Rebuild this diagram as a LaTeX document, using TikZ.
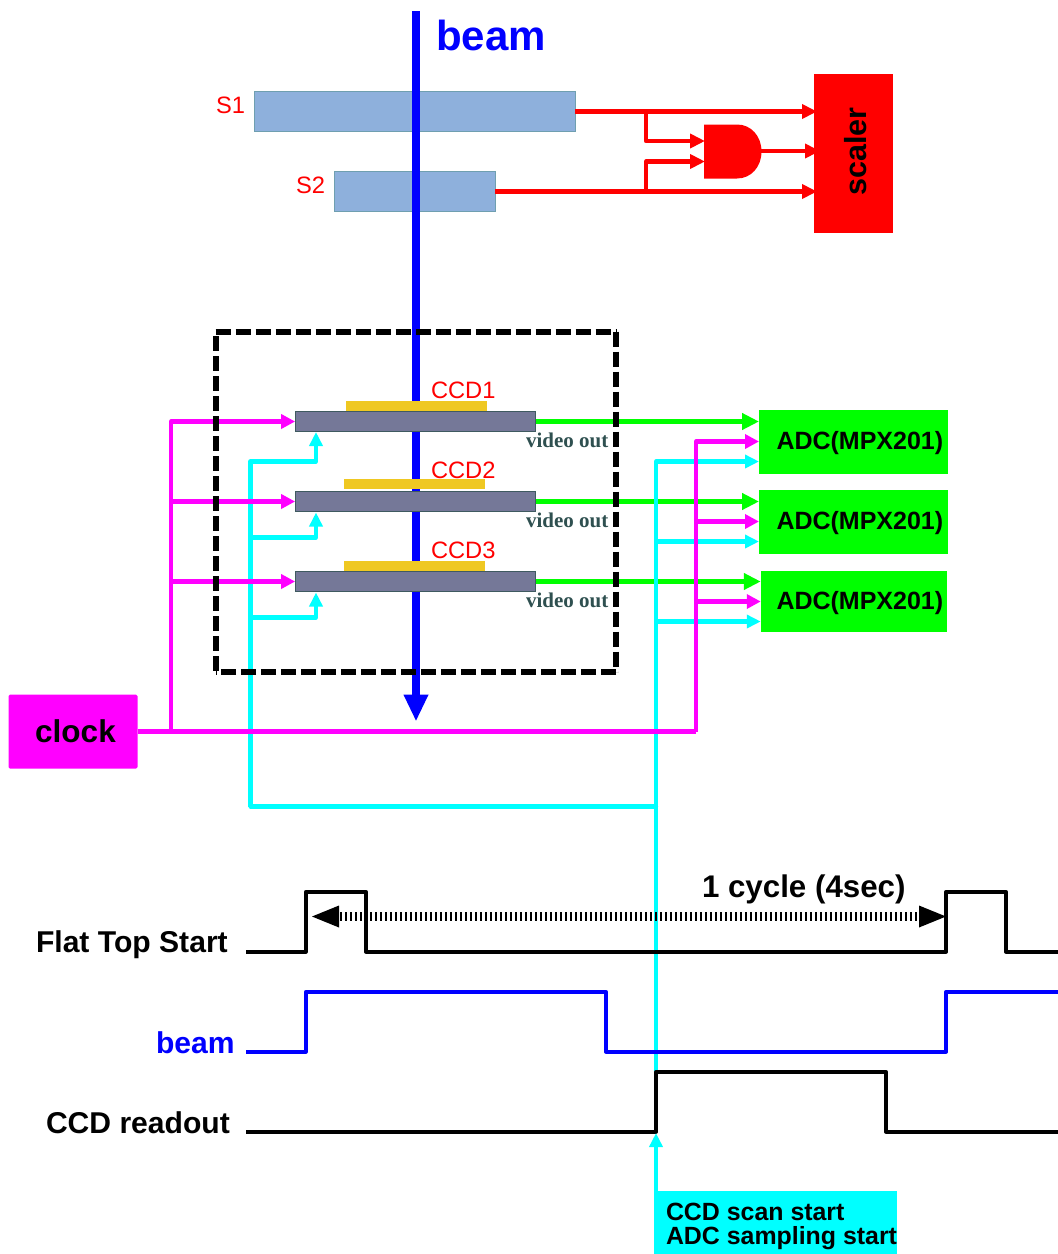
\documentclass[tikz,border=0pt]{standalone}
\usepackage{fontspec}
\setmainfont{Liberation Sans}
\newfontfamily\vidfont{Liberation Serif}
\usetikzlibrary{arrows.meta}
\definecolor{sensorblue}{HTML}{8EB0DC}
\definecolor{sensoredge}{HTML}{6F9FB0}
\definecolor{ccdgray}{HTML}{757898}
\definecolor{ccdedge}{HTML}{3F5A60}
\definecolor{ccdgold}{HTML}{EFC822}
\definecolor{vidcolor}{HTML}{2F5050}
\definecolor{mycyan}{HTML}{00FFFF}
\definecolor{mymag}{HTML}{FF00FF}
\definecolor{mygreen}{HTML}{00FF00}
\tikzset{
 x=1pt,y=-1pt,
 label text/.style={inner sep=0pt,outer sep=0pt,anchor=west,font=\fontsize{23.7}{24}\selectfont,text=red},
 bold text/.style={inner sep=0pt,outer sep=0pt,font=\bfseries\fontsize{30.1}{30.1}\selectfont,text=black},
 adc text/.style={inner sep=0pt,outer sep=0pt,anchor=west,font=\bfseries\fontsize{25}{25}\selectfont,text=black},
 vid text/.style={inner sep=0pt,outer sep=0pt,anchor=west,font=\vidfont\bfseries\fontsize{21}{21}\selectfont,text=vidcolor},
 wire/.style={line width=4.2pt,line join=round},
 redwire/.style={wire,red,-{Triangle[length=15pt,width=14pt]}},
 greenwire/.style={wire,mygreen,-{Triangle[length=17pt,width=16pt]}},
 magwire/.style={wire,mymag,-{Triangle[length=14pt,width=14pt]}},
 cyanwire/.style={wire,mycyan,-{Triangle[length=14pt,width=13pt]}},
 trace/.style={line width=3.8pt,line join=round},
 sensor/.style={draw=sensoredge,line width=1pt,fill=sensorblue,inner sep=0pt,outer sep=0pt,minimum height=40pt},
 ccd/.style={draw=ccdedge,line width=1.2pt,fill=ccdgray,inner sep=0pt,outer sep=0pt,minimum width=240.5pt,minimum height=20pt},
 gold/.style={fill=ccdgold,inner sep=0pt,outer sep=0pt,minimum width=141pt,minimum height=10pt},
 adcbox/.style={fill=mygreen,inner sep=0pt,outer sep=0pt},
 dashedge/.style={black,line width=5.8pt,dash pattern=on 15pt off 5pt},
}
\begin{document}
\begin{tikzpicture}
\useasboundingbox (0,0) rectangle (1058,1254);
% sensors
\node[sensor,minimum width=320.5pt] (s1) at (415.2,111) {};
\node[sensor,minimum width=160.5pt] (s2) at (415.2,191) {};
% beam
\coordinate (beamtop) at (416,11);
\coordinate (beamend) at (416,721.5);
\draw[line width=8.4pt,blue,-{Triangle[length=27pt,width=23pt]}] (beamtop) -- (beamend);
\node[inner sep=0pt,anchor=west,font=\bfseries\fontsize{42}{42}\selectfont,text=blue] (beamlabel) at (436,35.5) {beam};
\node[label text] (s1lab) at (216,105) {S1};
\node[label text] (s2lab) at (296,185) {S2};
% scaler
\node[fill=red,inner sep=0pt,outer sep=0pt,minimum width=79pt,minimum height=159pt] (scaler) at (853.5,153.5) {};
\node[rotate=90,inner sep=0pt,font=\bfseries\fontsize{30.5}{30.5}\selectfont] (scalerlab) at (855.5,151.5) {scaler};
% AND gate
\fill[red] (704,124.5) -- (737,124.5) .. controls (751,124.5) and (761.5,136) .. (761.5,151.5) .. controls (761.5,167) and (751,178.5) .. (737,178.5) -- (704,178.5) -- cycle;
\coordinate (gatein1) at (705,141);
\coordinate (gatein2) at (705,161.5);
\coordinate (gateout) at (761,151);
\coordinate (j1) at (646,111.5);
\coordinate (j2) at (646,191.5);
\coordinate (scalerin) at (820,151);
\coordinate (s1in) at (817,111.5);
\coordinate (s2in) at (817,191.5);
\draw[redwire] (s1.east |- j1) -- (s1in);
\draw[redwire] (s2.east |- j2) -- (s2in);
\draw[redwire] (j1) -- (j1 |- gatein1) -- (gatein1);
\draw[redwire] (j2) -- (j2 |- gatein2) -- (gatein2);
\draw[redwire] (gateout) -- (scalerin);
% ADC boxes
\node[adcbox,minimum width=189pt,minimum height=64pt] (adc1) at (853.5,441.5) {};
\node[adcbox,minimum width=189pt,minimum height=64pt] (adc2) at (853.5,521.5) {};
\node[adcbox,minimum width=186.5pt,minimum height=61pt] (adc3) at (854,601) {};
\node[adc text] (adc1lab) at (776.5,443) {ADC(MPX201)};
\node[adc text] (adc2lab) at (776.5,523) {ADC(MPX201)};
\node[adc text] (adc3lab) at (776.5,603) {ADC(MPX201)};
% clock
\node[fill=mymag,rounded corners=1.5pt,inner sep=0pt,outer sep=0pt,minimum width=129pt,minimum height=74pt] (clock) at (73,731.5) {};
\node[bold text,font=\bfseries\fontsize{31.5}{31.5}\selectfont] (clocklab) at (75.5,731.5) {clock};
% CCD
\node[gold] (g1) at (416.5,405.5) {};
\node[gold] (g2) at (414.5,483.5) {};
\node[gold] (g3) at (414.5,566) {};
\node[ccd] (c1) at (415.4,421.5) {};
\node[ccd] (c2) at (415.4,501.5) {};
\node[ccd] (c3) at (415.4,581.5) {};
\node[label text] (c1lab) at (431,390.5) {CCD1};
\node[label text] (c2lab) at (431,470.5) {CCD2};
\node[label text] (c3lab) at (431,550.5) {CCD3};
\node[vid text] (v1) at (526,440.5) {video out};
\node[vid text] (v2) at (526,520.5) {video out};
\node[vid text] (v3) at (526,600.5) {video out};
% green
\draw[greenwire] (c1.east) -- (adc1.west |- c1.east);
\draw[greenwire] (c2.east) -- (adc2.west |- c2.east);
\draw[greenwire] (c3.east) -- (adc3.west |- c3.east);
% cyan wiring
\coordinate (cr) at (656,461.5);
\coordinate (cb) at (656,806.5);
\coordinate (cl) at (250.5,806.5);
\coordinate (cl1) at (250.5,461.5);
\coordinate (cl2) at (250.5,537.5);
\coordinate (cl3) at (250.5,617.5);
\coordinate (cx1) at (316,461.5);
\coordinate (cx2) at (316,537.5);
\coordinate (cx3) at (316,617.5);
\coordinate (ct1) at (316,432);
\coordinate (ct2) at (316,512.5);
\coordinate (ct3) at (316,592.5);
\coordinate (crbot) at (656,1071);
\coordinate (cr2) at (656,541.5);
\coordinate (cr3) at (656,621.5);
\draw[wire,mycyan,line cap=round] (cb) -- (cl);
\draw[cyanwire] (cl) -- (cl1) -- (cx1) -- (ct1);
\draw[cyanwire] (cl2) -- (cx2) -- (ct2);
\draw[cyanwire] (cl3) -- (cx3) -- (ct3);
\draw[cyanwire] (crbot) -- (cr) -- (adc1.west |- cr);
\draw[cyanwire] (cr2) -- (adc2.west |- cr2);
\draw[cyanwire] (cr3) -- (adc3.west |- cr3);
% magenta wiring
\coordinate (ml) at (171,731.5);
\coordinate (mr) at (696,731.5);
\coordinate (mr1) at (696,441.5);
\coordinate (mr2) at (696,521.5);
\coordinate (mr3) at (696,601.5);
\draw[wire,mymag] (clock.east |- ml) -- (mr);
\draw[magwire] (ml) -- (ml |- c1.west) -- (c1.west);
\draw[magwire] (ml |- c2.west) -- (c2.west);
\draw[magwire] (ml |- c3.west) -- (c3.west);
\draw[magwire] (mr) -- (mr1) -- (adc1.west |- mr1);
\draw[magwire] (mr2) -- (adc2.west |- mr2);
\draw[magwire] (mr3) -- (adc3.west |- mr3);
% dashed box
\coordinate (dtl) at (215.7,331.7);
\coordinate (dtr) at (616,331.7);
\coordinate (dbr) at (616,671.7);
\coordinate (dbl) at (215.7,671.7);
\coordinate (dls) at (215.7,336);
\draw[dashedge] (dtl) -- (dtr);
\draw[dashedge] (dtr) -- (dbr);
\draw[dashedge] (dbr) -- (dbl);
\draw[dashedge] (dls) -- (dbl);
% timing
\node[bold text,anchor=west] (ftlab) at (36,944.5) {Flat Top Start};
\node[bold text,anchor=west,text=blue] (blab) at (156,1042.5) {beam};
\node[bold text,anchor=west] (rolab) at (46,1122.5) {CCD readout};
\node[bold text,anchor=west,font=\bfseries\fontsize{31.3}{31.3}\selectfont] (cyclab) at (702,889.5) {1 cycle (4sec)};
\draw[trace] (246,951.7) -- (305.8,951.7) -- (305.8,891.7) -- (366,891.7) -- (366,951.7) -- (946,951.7) -- (946,891.7) -- (1006,891.7) -- (1006,951.7) -- (1058,951.7);
\draw[trace,blue] (246,1051.7) -- (305.8,1051.7) -- (305.8,991.7) -- (606,991.7) -- (606,1051.7) -- (946,1051.7) -- (946,991.7) -- (1058,991.7);
\draw[trace] (246,1131.7) -- (656,1131.7) -- (656,1071.7) -- (886,1071.7) -- (886,1131.7) -- (1058,1131.7);
\coordinate (dl) at (340,916.5);
\coordinate (dr) at (918,916.5);
\draw[line width=9pt,dash pattern=on 2.4pt off 2.6pt] (dl) -- (dr);
\fill (dl) ++(-28,0) -- ++(27,-11) -- ++(0,22) -- cycle;
\fill (dr) ++(28,0) -- ++(-27,-11) -- ++(0,22) -- cycle;
% scan start
\node[fill=mycyan,inner sep=0pt,outer sep=0pt,minimum width=243pt,minimum height=63pt] (scan) at (775.5,1222.5) {};
\node[inner sep=0pt,outer sep=0pt,anchor=west,font=\bfseries\fontsize{24.9}{24.9}\selectfont] (scan1) at (666,1212) {CCD scan start};
\node[inner sep=0pt,outer sep=0pt,anchor=west,font=\bfseries\fontsize{24.9}{24.9}\selectfont] (scan2) at (666,1238) {ADC sampling start};
\coordinate (scanup) at (656,1133);
\draw[cyanwire] (scanup |- scan.north) -- (scanup);
\end{tikzpicture}
\end{document}
